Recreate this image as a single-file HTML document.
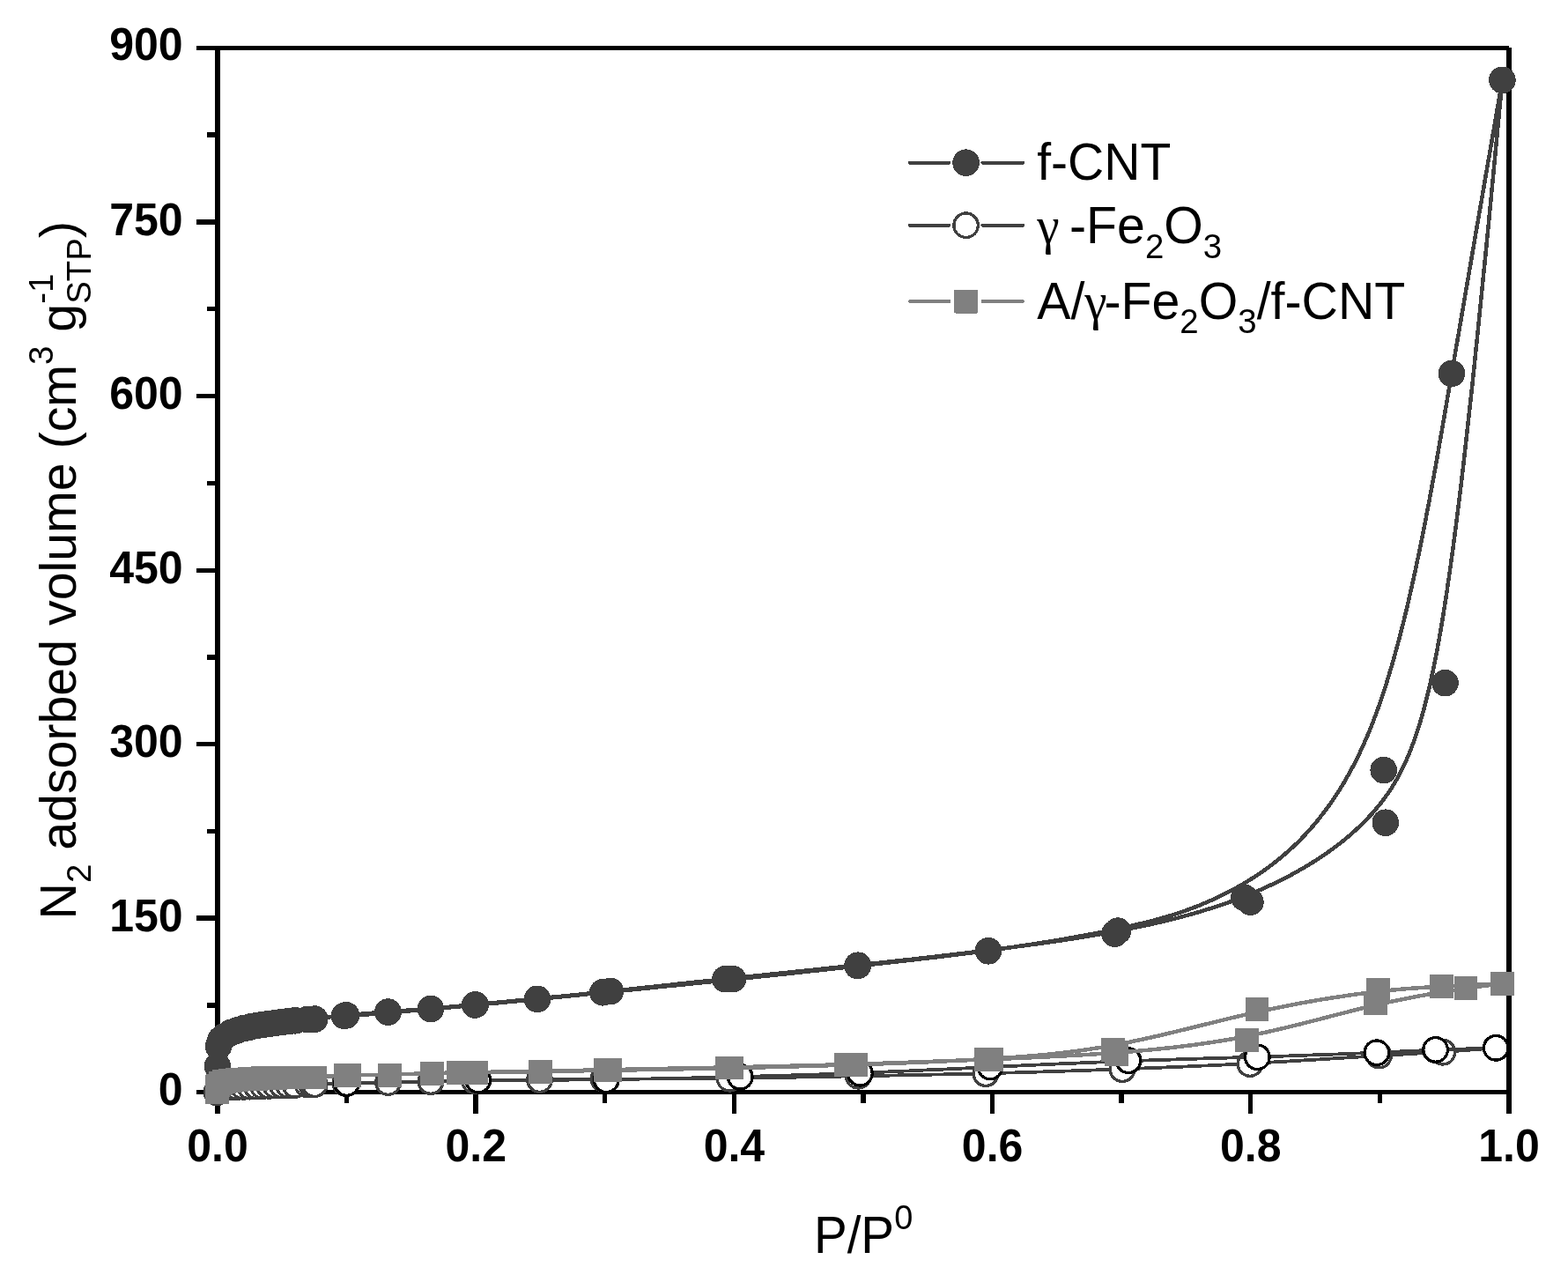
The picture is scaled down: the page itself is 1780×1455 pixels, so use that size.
<!DOCTYPE html>
<html lang="en"><head><meta charset="utf-8"><title>N2 adsorption isotherms</title>
<style>html,body{margin:0;padding:0;background:#fff;}svg{display:block;}text{font-family:"Liberation Sans",sans-serif;fill:#000;}.b{font-weight:bold;font-size:51px;}.g{font-family:"Liberation Serif",serif;}</style></head><body>
<svg width="1780" height="1455" viewBox="0 0 1780 1455">
<rect width="1780" height="1455" fill="#fff"/>
<g fill="#000" shape-rendering="crispEdges">
<rect x="244" y="52" width="6" height="1212"/>
<rect x="1710" y="54" width="6" height="1210"/>
<rect x="223" y="52" width="1490" height="5"/>
<rect x="223" y="1237" width="1493" height="5"/>
<rect x="235" y="1138" width="10" height="6"/>
<rect x="223" y="1039" width="22" height="6"/>
<rect x="235" y="941" width="10" height="5"/>
<rect x="223" y="842" width="22" height="5"/>
<rect x="235" y="743" width="10" height="6"/>
<rect x="223" y="645" width="22" height="5"/>
<rect x="235" y="546" width="10" height="5"/>
<rect x="223" y="447" width="22" height="5"/>
<rect x="235" y="348" width="10" height="5"/>
<rect x="223" y="249" width="22" height="6"/>
<rect x="235" y="150" width="10" height="6"/>
<rect x="391" y="1240" width="5" height="12"/>
<rect x="537" y="1240" width="6" height="24"/>
<rect x="684" y="1240" width="5" height="12"/>
<rect x="831" y="1240" width="5" height="24"/>
<rect x="977" y="1240" width="6" height="12"/>
<rect x="1124" y="1240" width="5" height="24"/>
<rect x="1270" y="1240" width="6" height="12"/>
<rect x="1417" y="1240" width="5" height="24"/>
<rect x="1564" y="1240" width="5" height="12"/>
</g>
<g class="b" text-anchor="end">
<text transform="translate(207.6 1254.0) scale(0.981 1)">0</text>
<text transform="translate(207.6 1056.5) scale(0.981 1)">150</text>
<text transform="translate(207.6 859.0) scale(0.981 1)">300</text>
<text transform="translate(207.6 661.5) scale(0.981 1)">450</text>
<text transform="translate(207.6 464.0) scale(0.981 1)">600</text>
<text transform="translate(207.6 266.5) scale(0.981 1)">750</text>
<text transform="translate(207.6 68.4) scale(0.981 1)">900</text>
</g>
<g class="b" text-anchor="middle">
<text transform="translate(247.0 1317.5) scale(0.981 1)">0.0</text>
<text transform="translate(540.2 1317.5) scale(0.981 1)">0.2</text>
<text transform="translate(833.4 1317.5) scale(0.981 1)">0.4</text>
<text transform="translate(1126.6 1317.5) scale(0.981 1)">0.6</text>
<text transform="translate(1419.8 1317.5) scale(0.981 1)">0.8</text>
<text transform="translate(1713.0 1317.5) scale(0.981 1)">1.0</text>
</g>
<text transform="translate(923.9 1421.8) scale(0.988 1.028)" font-size="57.3">P/P<tspan font-size="38.4" dy="-25.8">0</tspan></text>
<text transform="translate(86 1043.5) rotate(-90)" font-size="57.3">N<tspan font-size="38.4" dy="17">2</tspan><tspan dy="-17"> adsorbed volume (cm</tspan><tspan font-size="38.4" dy="-26">3</tspan><tspan dy="26"> g</tspan><tspan font-size="38.4" dy="-26">-1</tspan><tspan font-size="38.4" dy="43" dx="-34.14">STP</tspan><tspan dy="-17">)</tspan></text>
<g id="fcnt" shape-rendering="crispEdges">
<path d="M247.0 1210.0 L247.3 1202.5 L247.7 1195.6 L248.2 1189.8 L249.3 1183.9 L250.7 1180.4 L252.5 1178.0 L254.9 1176.0 L258.1 1174.0 L261.7 1172.1 L265.3 1170.5 L269.0 1169.3 L272.7 1168.1 L276.3 1167.1 L280.0 1166.2 L283.7 1165.3 L287.3 1164.6 L291.0 1163.9 L294.6 1163.3 L298.3 1162.7 L302.0 1162.1 L305.6 1161.6 L309.3 1161.1 L313.0 1160.6 L316.6 1160.1 L320.3 1159.7 L324.0 1159.3 L327.6 1158.8 L331.4 1158.4 L336.1 1157.9 L341.9 1157.4 L347.4 1157.0 L351.0 1156.7 L353.4 1156.6 L356.0 1156.3 L362.6 1155.6 L366.3 1155.2 L370.8 1154.7 L376.0 1154.1 L381.8 1153.5 L388.2 1152.8 L394.9 1152.2 L401.0 1151.6 L407.3 1151.0 L413.7 1150.5 L420.3 1149.9 L427.0 1149.4 L433.8 1148.9 L440.6 1148.3 L446.7 1147.9 L452.7 1147.4 L458.7 1146.9 L464.8 1146.5 L470.9 1146.0 L477.0 1145.5 L483.1 1145.0 L489.3 1144.5 L495.5 1144.0 L501.8 1143.4 L508.2 1142.9 L514.7 1142.3 L521.4 1141.7 L528.3 1141.0 L535.5 1140.4 L542.9 1139.7 L548.5 1139.2 L554.2 1138.7 L560.1 1138.1 L566.1 1137.6 L572.2 1137.0 L578.4 1136.4 L584.7 1135.8 L591.1 1135.2 L597.6 1134.6 L604.1 1134.0 L610.6 1133.3 L616.7 1132.7 L622.8 1132.1 L629.0 1131.5 L635.4 1130.9 L641.9 1130.3 L648.6 1129.6 L655.5 1128.9 L662.8 1128.1 L670.3 1127.3 L678.2 1126.5 L686.4 1125.6 L695.1 1124.7 L699.8 1124.2 L704.6 1123.7 L709.5 1123.2 L714.6 1122.7 L719.7 1122.1 L725.0 1121.5 L730.3 1121.0 L735.8 1120.4 L741.3 1119.8 L746.9 1119.2 L752.6 1118.6 L758.3 1118.0 L764.1 1117.4 L770.0 1116.7 L776.0 1116.1 L782.0 1115.5 L788.0 1114.8 L794.2 1114.2 L800.3 1113.5 L806.5 1112.9 L812.7 1112.2 L819.0 1111.5 L825.2 1110.9 L831.3 1110.3 L837.3 1109.6 L843.4 1109.0 L849.5 1108.4 L855.6 1107.7 L861.7 1107.1 L867.8 1106.5 L874.0 1105.8 L880.1 1105.2 L886.3 1104.5 L892.5 1103.9 L898.6 1103.3 L904.8 1102.6 L911.0 1102.0 L917.2 1101.3 L923.5 1100.7 L929.7 1100.0 L935.9 1099.4 L942.1 1098.7 L948.3 1098.1 L954.6 1097.4 L960.8 1096.8 L967.0 1096.1 L973.2 1095.5 L979.5 1094.8 L985.7 1094.1 L991.9 1093.4 L998.1 1092.8 L1004.3 1092.1 L1010.5 1091.4 L1016.7 1090.7 L1022.9 1090.0 L1029.1 1089.4 L1035.3 1088.7 L1041.4 1088.0 L1047.6 1087.3 L1053.8 1086.6 L1059.9 1085.9 L1066.1 1085.1 L1072.2 1084.4 L1078.4 1083.7 L1084.5 1083.0 L1090.6 1082.3 L1096.8 1081.5 L1102.9 1080.8 L1109.0 1080.1 L1115.1 1079.3 L1121.2 1078.6 L1127.2 1077.8 L1133.3 1077.1 L1139.4 1076.3 L1145.4 1075.5 L1151.5 1074.7 L1157.6 1073.9 L1163.6 1073.1 L1169.7 1072.3 L1175.7 1071.5 L1181.8 1070.7 L1187.8 1069.8 L1193.9 1068.9 L1199.9 1068.1 L1206.0 1067.2 L1212.1 1066.2 L1218.1 1065.3 L1224.2 1064.3 L1230.3 1063.3 L1236.5 1062.3 L1242.6 1061.3 L1248.7 1060.2 L1254.9 1059.2 L1261.0 1058.1 L1267.2 1056.9 L1273.4 1055.7 L1279.7 1054.6 L1285.9 1053.3 L1292.2 1052.0 L1298.4 1050.7 L1304.7 1049.4 L1311.0 1048.0 L1317.3 1046.5 L1323.6 1045.0 L1330.0 1043.5 L1336.3 1041.9 L1342.7 1040.2 L1349.0 1038.5 L1355.4 1036.7 L1361.8 1034.9 L1368.1 1032.9 L1374.5 1030.9 L1380.9 1028.9 L1387.3 1026.7 L1393.7 1024.5 L1400.1 1022.2 L1406.5 1019.8 L1412.9 1017.3 L1419.3 1014.7 L1425.7 1012.0 L1432.1 1009.3 L1438.5 1006.4 L1444.9 1003.4 L1451.2 1000.4 L1457.5 997.2 L1463.8 994.0 L1470.0 990.6 L1476.2 987.1 L1482.3 983.6 L1488.3 979.9 L1494.3 976.1 L1500.2 972.3 L1506.0 968.3 L1511.8 964.2 L1517.4 960.0 L1523.0 955.7 L1528.4 951.2 L1533.8 946.7 L1539.0 942.0 L1544.1 937.3 L1549.0 932.4 L1553.8 927.4 L1558.5 922.3 L1563.0 917.0 L1567.4 911.6 L1571.7 906.0 L1575.8 900.2 L1579.8 894.2 L1583.7 887.9 L1587.5 881.2 L1591.1 874.2 L1594.7 866.8 L1598.1 859.0 L1601.5 850.8 L1604.8 842.0 L1608.0 832.8 L1611.2 823.0 L1614.2 812.6 L1617.3 801.6 L1620.2 789.9 L1623.2 777.6 L1626.0 764.6 L1628.9 750.8 L1631.7 736.2 L1634.5 720.8 L1637.3 704.6 L1640.0 687.5 L1642.8 669.5 L1645.5 650.6 L1648.3 630.9 L1651.0 610.4 L1653.8 589.1 L1656.5 567.1 L1659.3 544.4 L1662.0 521.1 L1664.7 497.1 L1667.4 472.6 L1670.2 447.6 L1672.9 422.1 L1675.6 396.1 L1678.3 369.6 L1681.0 342.9 L1683.7 315.7 L1686.5 288.3 L1689.2 260.6 L1691.9 232.6 L1694.6 204.5 L1697.3 176.3 L1700.0 147.9 L1702.7 119.4 L1705.4 90.9" fill="none" stroke="#404040" stroke-width="4.5" stroke-linejoin="round"/>
<path d="M1705.4 90.9 L1703.0 104.8 L1700.6 118.7 L1698.2 132.6 L1695.8 146.5 L1693.4 160.5 L1691.0 174.5 L1688.5 188.5 L1686.1 202.6 L1683.7 216.8 L1681.2 231.1 L1678.7 245.4 L1676.2 259.8 L1673.7 274.4 L1671.2 289.0 L1668.7 303.8 L1666.1 318.7 L1663.5 333.7 L1660.9 348.9 L1658.3 364.2 L1655.6 379.7 L1652.9 395.4 L1650.2 411.2 L1647.4 427.2 L1644.6 443.4 L1641.8 459.8 L1638.9 476.4 L1636.0 493.2 L1633.1 510.0 L1630.1 526.9 L1627.0 543.9 L1623.9 560.9 L1620.7 577.9 L1617.4 594.8 L1614.1 611.7 L1610.7 628.4 L1607.2 645.1 L1603.6 661.5 L1599.9 677.8 L1596.2 693.9 L1592.3 709.7 L1588.3 725.2 L1584.2 740.4 L1580.0 755.2 L1575.7 769.7 L1571.3 783.8 L1566.7 797.4 L1562.0 810.5 L1557.2 823.2 L1552.2 835.3 L1547.1 846.9 L1541.9 858.0 L1536.5 868.7 L1531.0 878.8 L1525.5 888.5 L1519.8 897.8 L1514.0 906.6 L1508.2 915.0 L1502.2 923.0 L1496.2 930.6 L1490.2 937.9 L1484.0 944.7 L1477.9 951.3 L1471.7 957.5 L1465.4 963.4 L1459.1 969.0 L1452.8 974.3 L1446.5 979.4 L1440.2 984.1 L1433.8 988.7 L1427.5 993.0 L1421.2 997.1 L1414.9 1001.0 L1408.6 1004.7 L1402.4 1008.2 L1396.1 1011.6 L1389.9 1014.8 L1383.8 1017.8 L1377.6 1020.7 L1371.4 1023.4 L1365.3 1026.0 L1359.2 1028.5 L1353.1 1030.8 L1347.0 1033.1 L1340.9 1035.2 L1334.9 1037.2 L1328.8 1039.1 L1322.8 1040.9 L1316.7 1042.6 L1310.7 1044.3 L1304.6 1045.9 L1298.6 1047.4 L1292.6 1048.8 L1286.5 1050.2 L1280.5 1051.6 L1274.4 1052.9 L1268.4 1054.2 L1262.3 1055.5 L1256.3 1056.7 L1250.2 1057.9 L1244.2 1059.1 L1238.1 1060.3 L1232.0 1061.4 L1225.9 1062.5 L1219.8 1063.6 L1213.7 1064.7 L1207.6 1065.8 L1201.5 1066.8 L1195.4 1067.9 L1189.3 1068.9 L1183.2 1069.8 L1177.1 1070.8 L1170.9 1071.8 L1164.8 1072.7 L1158.7 1073.6 L1152.5 1074.5 L1146.4 1075.4 L1140.3 1076.3 L1134.1 1077.1 L1128.0 1078.0 L1121.8 1078.8 L1115.7 1079.7 L1109.5 1080.5 L1103.4 1081.3 L1097.2 1082.1 L1091.1 1082.8 L1084.9 1083.6 L1078.8 1084.4 L1072.7 1085.1 L1066.5 1085.9 L1060.4 1086.6 L1054.2 1087.3 L1048.1 1088.0 L1042.0 1088.7 L1035.8 1089.5 L1029.7 1090.2 L1023.6 1090.8 L1017.5 1091.5 L1011.4 1092.2 L1005.3 1092.9 L999.2 1093.6 L993.2 1094.2 L987.1 1094.9 L981.0 1095.6 L975.0 1096.2 L968.7 1096.9 L962.4 1097.6 L956.1 1098.3 L949.8 1099.0 L943.6 1099.7 L937.3 1100.4 L931.1 1101.1 L924.9 1101.7 L918.6 1102.4 L912.4 1103.1 L906.2 1103.8 L900.0 1104.4 L893.9 1105.1 L887.7 1105.8 L881.5 1106.4 L875.3 1107.1 L869.2 1107.7 L863.0 1108.4 L856.9 1109.0 L850.8 1109.7 L844.6 1110.3 L838.5 1111.0 L832.4 1111.6 L826.3 1112.3 L820.2 1112.9 L814.1 1113.5 L808.0 1114.1 L801.9 1114.8 L795.8 1115.4 L789.7 1116.0 L783.6 1116.6 L777.4 1117.3 L771.3 1117.9 L765.2 1118.5 L759.0 1119.1 L752.9 1119.7 L746.7 1120.3 L740.5 1121.0 L734.3 1121.6 L728.1 1122.2 L721.9 1122.8 L715.6 1123.5 L709.4 1124.1 L703.1 1124.7 L696.7 1125.3 L690.4 1126.0 L684.3 1126.6 L678.1 1127.2 L672.0 1127.8 L665.8 1128.4 L659.6 1129.1 L653.4 1129.7 L647.2 1130.3 L640.9 1130.9 L634.7 1131.6 L628.4 1132.2 L622.1 1132.8 L615.8 1133.4 L609.5 1134.0 L603.2 1134.7 L596.9 1135.3 L590.6 1135.9 L584.3 1136.5 L577.9 1137.1 L571.6 1137.7 L565.3 1138.3 L559.0 1138.9 L552.7 1139.5 L546.4 1140.1 L540.1 1140.7 L533.8 1141.3 L527.5 1141.8 L521.3 1142.4 L515.0 1143.0 L508.8 1143.5 L502.5 1144.1 L496.3 1144.6 L490.1 1145.2 L483.8 1145.7 L477.6 1146.3 L471.4 1146.8 L465.2 1147.3 L459.0 1147.9 L452.8 1148.4 L446.6 1148.9 L440.4 1149.4 L434.2 1150.0 L428.1 1150.5 L421.9 1151.0 L415.7 1151.5 L409.5 1152.0 L403.4 1152.6 L397.2 1153.1 L391.0 1153.6" fill="none" stroke="#404040" stroke-width="4.5" stroke-linejoin="round"/>
<g fill="#404040"><circle cx="247.0" cy="1210.3" r="15.3"/><circle cx="248.0" cy="1187.5" r="15.3"/><circle cx="250.5" cy="1180.0" r="15.3"/><circle cx="254.3" cy="1176.5" r="15.3"/><circle cx="261.7" cy="1172.1" r="15.3"/><circle cx="269.0" cy="1169.5" r="15.3"/><circle cx="276.3" cy="1167.3" r="15.3"/><circle cx="283.7" cy="1165.6" r="15.3"/><circle cx="291.0" cy="1164.2" r="15.3"/><circle cx="298.3" cy="1163.0" r="15.3"/><circle cx="305.6" cy="1161.9" r="15.3"/><circle cx="313.0" cy="1160.9" r="15.3"/><circle cx="320.3" cy="1160.0" r="15.3"/><circle cx="327.6" cy="1159.1" r="15.3"/><circle cx="335.0" cy="1158.3" r="15.3"/><circle cx="349.0" cy="1157.1" r="15.3"/><circle cx="353.5" cy="1156.8" r="15.3"/><circle cx="357.2" cy="1156.6" r="15.3"/><circle cx="393.0" cy="1152.4" r="15.3"/><circle cx="440.5" cy="1148.6" r="15.3"/><circle cx="488.9" cy="1145.0" r="15.3"/><circle cx="539.6" cy="1140.3" r="15.3"/><circle cx="610.0" cy="1133.8" r="15.3"/><circle cx="684.3" cy="1126.3" r="15.3"/><circle cx="823.4" cy="1111.2" r="15.3"/><circle cx="973.5" cy="1096.0" r="15.3"/><circle cx="1122.0" cy="1079.3" r="15.3"/><circle cx="1265.5" cy="1059.7" r="15.3"/><circle cx="1419.4" cy="1023.7" r="15.3"/><circle cx="1572.8" cy="933.7" r="15.3"/><circle cx="1640.5" cy="775.1" r="15.3"/><circle cx="1705.4" cy="90.9" r="15.3"/><circle cx="1705.4" cy="90.9" r="15.3"/><circle cx="1647.9" cy="423.9" r="15.3"/><circle cx="1570.7" cy="874.1" r="15.3"/><circle cx="1412.4" cy="1018.8" r="15.3"/><circle cx="1269.0" cy="1056.6" r="15.3"/><circle cx="1122.0" cy="1079.3" r="15.3"/><circle cx="974.0" cy="1095.7" r="15.3"/><circle cx="831.9" cy="1111.2" r="15.3"/><circle cx="692.8" cy="1125.0" r="15.3"/><circle cx="539.2" cy="1140.5" r="15.3"/><circle cx="391.0" cy="1152.9" r="15.3"/></g>
</g>
<g id="gfe" shape-rendering="crispEdges">
<path d="M246.0 1239.8 L247.0 1238.7 L248.1 1237.7 L249.3 1236.9 L250.7 1236.3 L252.5 1235.7 L254.9 1235.2 L258.1 1234.6 L261.7 1234.1 L265.3 1233.8 L269.0 1233.6 L272.7 1233.5 L276.3 1233.3 L280.0 1233.2 L283.7 1233.1 L287.3 1233.0 L291.0 1232.8 L294.6 1232.7 L298.3 1232.6 L302.0 1232.5 L305.6 1232.3 L309.3 1232.2 L313.0 1232.1 L316.6 1232.0 L320.3 1231.8 L324.0 1231.7 L327.6 1231.6 L331.4 1231.5 L336.1 1231.3 L341.9 1231.1 L347.4 1230.9 L351.0 1230.8 L353.4 1230.7 L356.0 1230.6 L362.4 1230.4 L366.8 1230.2 L372.4 1230.0 L378.9 1229.8 L386.3 1229.6 L394.3 1229.4 L399.6 1229.3 L405.1 1229.1 L410.7 1229.0 L416.5 1228.9 L422.4 1228.8 L428.4 1228.7 L434.4 1228.6 L440.5 1228.5 L446.6 1228.4 L452.6 1228.2 L458.7 1228.1 L464.8 1228.0 L470.9 1227.9 L476.9 1227.7 L483.0 1227.6 L489.2 1227.5 L495.3 1227.4 L501.5 1227.2 L507.8 1227.1 L514.3 1227.0 L520.9 1226.9 L527.9 1226.8 L535.1 1226.6 L542.6 1226.5 L547.8 1226.4 L553.2 1226.3 L558.8 1226.2 L564.4 1226.2 L570.2 1226.1 L576.0 1226.0 L582.0 1225.9 L588.0 1225.8 L594.0 1225.8 L600.1 1225.7 L606.2 1225.6 L612.3 1225.5 L618.4 1225.4 L624.6 1225.3 L630.8 1225.3 L637.1 1225.2 L643.6 1225.1 L650.2 1225.0 L657.2 1224.9 L664.3 1224.9 L671.9 1224.8 L679.8 1224.7 L688.0 1224.7 L696.8 1224.6 L701.5 1224.6 L706.4 1224.6 L711.4 1224.5 L716.5 1224.5 L721.8 1224.5 L727.1 1224.5 L732.5 1224.4 L738.1 1224.4 L743.7 1224.4 L749.4 1224.4 L755.2 1224.3 L761.0 1224.3 L766.9 1224.3 L772.9 1224.2 L779.0 1224.2 L785.1 1224.1 L791.2 1224.1 L797.4 1224.1 L803.6 1224.0 L809.8 1223.9 L816.1 1223.9 L822.3 1223.8 L828.6 1223.8 L834.6 1223.7 L840.7 1223.6 L846.7 1223.5 L852.8 1223.4 L858.8 1223.4 L864.9 1223.3 L870.9 1223.2 L877.0 1223.1 L883.0 1223.0 L889.1 1222.9 L895.2 1222.8 L901.2 1222.7 L907.3 1222.5 L913.4 1222.4 L919.4 1222.3 L925.5 1222.2 L931.6 1222.1 L937.7 1222.0 L943.7 1221.9 L949.8 1221.7 L955.9 1221.6 L961.9 1221.5 L968.0 1221.4 L974.0 1221.3 L980.1 1221.2 L986.2 1221.0 L992.2 1220.9 L998.3 1220.8 L1004.3 1220.7 L1010.4 1220.6 L1016.5 1220.5 L1022.5 1220.3 L1028.6 1220.2 L1034.7 1220.1 L1040.7 1220.0 L1046.8 1219.9 L1052.9 1219.7 L1059.0 1219.6 L1065.1 1219.5 L1071.3 1219.4 L1077.4 1219.2 L1083.5 1219.1 L1089.7 1218.9 L1095.9 1218.8 L1102.1 1218.7 L1108.3 1218.5 L1114.5 1218.4 L1120.7 1218.2 L1127.0 1218.0 L1133.2 1217.9 L1139.5 1217.7 L1145.8 1217.5 L1152.1 1217.4 L1158.4 1217.2 L1164.8 1217.0 L1171.1 1216.8 L1177.5 1216.6 L1183.8 1216.4 L1190.2 1216.2 L1196.5 1216.0 L1202.9 1215.8 L1209.2 1215.6 L1215.6 1215.4 L1221.9 1215.2 L1228.2 1215.0 L1234.6 1214.8 L1240.9 1214.5 L1247.2 1214.3 L1253.5 1214.1 L1259.8 1213.9 L1266.1 1213.6 L1272.3 1213.4 L1278.6 1213.2 L1284.8 1213.0 L1291.0 1212.7 L1297.2 1212.5 L1303.4 1212.2 L1309.6 1212.0 L1315.7 1211.7 L1321.8 1211.5 L1328.0 1211.2 L1334.1 1211.0 L1340.2 1210.7 L1346.3 1210.5 L1352.4 1210.2 L1358.5 1209.9 L1364.6 1209.6 L1370.7 1209.4 L1376.8 1209.1 L1382.8 1208.8 L1388.9 1208.5 L1395.0 1208.2 L1401.0 1207.9 L1407.1 1207.6 L1413.2 1207.3 L1419.2 1206.9 L1425.3 1206.6 L1431.4 1206.3 L1437.5 1205.9 L1443.5 1205.6 L1449.5 1205.2 L1455.5 1204.9 L1461.5 1204.6 L1467.4 1204.2 L1473.3 1203.8 L1479.2 1203.5 L1485.0 1203.1 L1490.7 1202.8 L1496.4 1202.5 L1502.0 1202.1 L1507.6 1201.8 L1513.0 1201.4 L1518.4 1201.1 L1523.7 1200.8 L1528.8 1200.4 L1533.9 1200.1 L1538.9 1199.8 L1543.8 1199.5 L1548.5 1199.2 L1553.1 1199.0 L1562.0 1198.4 L1570.4 1197.9 L1578.3 1197.4 L1585.9 1197.0 L1593.0 1196.6 L1599.9 1196.2 L1606.4 1195.8 L1612.7 1195.4 L1618.7 1195.1 L1624.5 1194.7 L1630.2 1194.4 L1635.8 1194.0 L1642.4 1193.6 L1648.9 1193.1 L1655.2 1192.7 L1661.5 1192.2 L1667.8 1191.7 L1673.9 1191.2 L1680.0 1190.8 L1686.1 1190.3 L1692.2 1189.8 L1698.2 1189.3" fill="none" stroke="#404040" stroke-width="3.8" stroke-linejoin="round"/>
<g fill="#fff" stroke="#404040" stroke-width="3.3"><circle cx="246.0" cy="1239.8" r="13.8"/><circle cx="248.0" cy="1237.5" r="13.8"/><circle cx="250.5" cy="1236.2" r="13.8"/><circle cx="254.3" cy="1235.2" r="13.8"/><circle cx="261.7" cy="1233.9" r="13.8"/><circle cx="269.0" cy="1233.6" r="13.8"/><circle cx="276.3" cy="1233.3" r="13.8"/><circle cx="283.7" cy="1233.1" r="13.8"/><circle cx="291.0" cy="1232.8" r="13.8"/><circle cx="298.3" cy="1232.6" r="13.8"/><circle cx="305.6" cy="1232.3" r="13.8"/><circle cx="313.0" cy="1232.1" r="13.8"/><circle cx="320.3" cy="1231.8" r="13.8"/><circle cx="327.6" cy="1231.6" r="13.8"/><circle cx="335.0" cy="1231.4" r="13.8"/><circle cx="349.0" cy="1230.9" r="13.8"/><circle cx="353.5" cy="1230.7" r="13.8"/><circle cx="357.2" cy="1230.6" r="13.8"/><circle cx="392.0" cy="1229.3" r="13.8"/><circle cx="440.5" cy="1228.5" r="13.8"/><circle cx="489.0" cy="1227.5" r="13.8"/><circle cx="538.5" cy="1226.5" r="13.8"/><circle cx="612.6" cy="1225.5" r="13.8"/><circle cx="685.0" cy="1224.5" r="13.8"/><circle cx="828.1" cy="1224.2" r="13.8"/><circle cx="974.3" cy="1221.2" r="13.8"/><circle cx="1119.0" cy="1218.6" r="13.8"/><circle cx="1274.0" cy="1213.6" r="13.8"/><circle cx="1419.0" cy="1207.5" r="13.8"/><circle cx="1565.5" cy="1198.0" r="13.8"/><circle cx="1637.8" cy="1194.2" r="13.8"/><circle cx="1698.2" cy="1189.3" r="13.8"/></g>
<path d="M1698.2 1189.3 L1692.0 1189.5 L1685.7 1189.7 L1679.5 1189.9 L1673.3 1190.1 L1667.0 1190.3 L1660.8 1190.5 L1654.6 1190.7 L1648.4 1190.9 L1642.2 1191.1 L1636.1 1191.4 L1629.9 1191.6 L1623.8 1191.9 L1617.6 1192.1 L1611.3 1192.4 L1604.9 1192.7 L1598.3 1193.0 L1591.4 1193.3 L1584.2 1193.6 L1576.7 1194.0 L1568.7 1194.3 L1560.3 1194.7 L1551.4 1195.1 L1546.7 1195.3 L1541.9 1195.5 L1537.0 1195.7 L1531.9 1195.9 L1526.8 1196.1 L1521.5 1196.3 L1516.1 1196.5 L1510.5 1196.7 L1504.9 1196.9 L1499.2 1197.1 L1493.4 1197.3 L1487.6 1197.5 L1481.6 1197.7 L1475.6 1197.9 L1469.5 1198.2 L1463.4 1198.4 L1457.2 1198.6 L1450.9 1198.8 L1444.6 1199.0 L1438.3 1199.2 L1431.9 1199.4 L1425.5 1199.6 L1419.6 1199.8 L1413.7 1200.0 L1407.8 1200.2 L1401.9 1200.3 L1395.9 1200.5 L1389.9 1200.7 L1384.0 1200.9 L1377.9 1201.1 L1371.9 1201.2 L1365.9 1201.4 L1359.8 1201.6 L1353.7 1201.8 L1347.6 1202.0 L1341.5 1202.2 L1335.3 1202.4 L1329.2 1202.6 L1323.0 1202.8 L1316.8 1203.0 L1310.6 1203.2 L1304.3 1203.4 L1298.1 1203.6 L1291.8 1203.8 L1285.5 1204.0 L1279.2 1204.3 L1272.9 1204.5 L1266.5 1204.7 L1260.2 1205.0 L1253.8 1205.2 L1247.4 1205.5 L1241.0 1205.8 L1234.6 1206.0 L1228.2 1206.3 L1221.8 1206.6 L1215.3 1206.9 L1208.9 1207.1 L1202.5 1207.4 L1196.0 1207.7 L1189.6 1208.0 L1183.2 1208.3 L1176.7 1208.6 L1170.3 1208.9 L1163.9 1209.2 L1157.5 1209.5 L1151.1 1209.8 L1144.7 1210.1 L1138.3 1210.4 L1131.9 1210.7 L1125.6 1211.0 L1119.2 1211.3 L1112.9 1211.6 L1106.6 1211.9 L1100.3 1212.2 L1094.0 1212.5 L1087.8 1212.8 L1081.6 1213.1 L1075.3 1213.4 L1069.1 1213.7 L1062.9 1214.0 L1056.8 1214.2 L1050.6 1214.5 L1044.5 1214.8 L1038.4 1215.1 L1032.3 1215.4 L1026.2 1215.6 L1020.2 1215.9 L1014.1 1216.2 L1008.1 1216.4 L1002.1 1216.7 L996.1 1216.9 L990.2 1217.2 L984.2 1217.4 L978.3 1217.7 L971.9 1217.9 L965.4 1218.2 L959.0 1218.4 L952.7 1218.6 L946.3 1218.9 L939.9 1219.1 L933.6 1219.3 L927.2 1219.5 L920.9 1219.7 L914.6 1219.9 L908.2 1220.1 L901.9 1220.3 L895.5 1220.5 L889.1 1220.7 L882.8 1220.9 L876.4 1221.1 L870.0 1221.2 L863.5 1221.4 L857.1 1221.6 L850.6 1221.8 L844.1 1221.9 L837.6 1222.1 L831.6 1222.3 L825.5 1222.4 L819.5 1222.6 L813.4 1222.7 L807.3 1222.9 L801.1 1223.0 L795.0 1223.2 L788.8 1223.3 L782.7 1223.5 L776.5 1223.6 L770.3 1223.7 L764.1 1223.9 L757.8 1224.0 L751.6 1224.1 L745.4 1224.3 L739.2 1224.4 L732.9 1224.5 L726.7 1224.6 L720.5 1224.7 L714.2 1224.8 L708.0 1224.9 L701.8 1225.0 L695.6 1225.1 L689.4 1225.2 L683.2 1225.2 L677.0 1225.3 L670.8 1225.4 L664.7 1225.4 L658.5 1225.5 L652.4 1225.6 L646.3 1225.6 L640.1 1225.7 L634.0 1225.7 L627.9 1225.8 L621.8 1225.8 L615.7 1225.9 L609.5 1225.9 L603.4 1225.9 L597.3 1226.0 L591.2 1226.0 L585.1 1226.1 L579.0 1226.1 L572.9 1226.2 L566.8 1226.3 L560.6 1226.3 L554.5 1226.4 L548.4 1226.5 L542.2 1226.5 L536.1 1226.6 L530.0 1226.7 L523.8 1226.8 L517.6 1226.9 L511.5 1227.0 L505.3 1227.1 L499.1 1227.2 L492.9 1227.3 L486.8 1227.4 L480.6 1227.6 L474.4 1227.7 L468.2 1227.8 L462.0 1227.9 L455.8 1228.1 L449.6 1228.2 L443.3 1228.4 L437.1 1228.5 L430.9 1228.6 L424.7 1228.8 L418.5 1228.9 L412.3 1229.1 L406.0 1229.2 L399.8 1229.4 L393.6 1229.5" fill="none" stroke="#404040" stroke-width="3.8" stroke-linejoin="round"/>
<g fill="#fff" stroke="#000" stroke-width="3.3"><circle cx="1698.2" cy="1189.3" r="13.8"/><circle cx="1629.6" cy="1191.4" r="13.8"/><circle cx="1562.9" cy="1194.8" r="13.8"/><circle cx="1427.3" cy="1199.8" r="13.8"/><circle cx="1281.0" cy="1203.7" r="13.8"/><circle cx="1124.0" cy="1211.0" r="13.8"/><circle cx="976.4" cy="1218.2" r="13.8"/><circle cx="840.2" cy="1222.2" r="13.8"/><circle cx="688.3" cy="1225.7" r="13.8"/><circle cx="542.9" cy="1226.0" r="13.8"/><circle cx="393.6" cy="1229.5" r="13.8"/></g>
</g>
<g id="comp" shape-rendering="crispEdges">
<path d="M246.5 1239.0 L246.5 1236.3 L246.7 1234.0 L247.1 1232.6 L247.8 1231.5 L248.9 1230.4 L250.4 1229.2 L252.3 1228.2 L254.8 1227.4 L258.1 1226.7 L261.7 1226.0 L265.3 1225.6 L269.0 1225.2 L272.7 1224.9 L276.3 1224.6 L280.0 1224.3 L283.7 1224.1 L287.3 1223.9 L291.0 1223.7 L294.6 1223.5 L298.3 1223.4 L302.0 1223.3 L305.6 1223.1 L309.3 1223.0 L313.0 1222.9 L316.6 1222.7 L320.3 1222.7 L324.0 1222.6 L327.6 1222.5 L331.4 1222.5 L336.1 1222.5 L341.9 1222.5 L347.4 1222.6 L351.0 1222.6 L353.4 1222.6 L356.0 1222.5 L362.4 1222.2 L366.9 1222.0 L372.1 1221.7 L377.5 1221.3 L382.7 1221.0 L387.2 1220.8 L394.6 1220.4 L403.3 1220.3 L407.3 1220.3 L412.0 1220.2 L417.3 1220.1 L423.1 1220.0 L429.3 1219.9 L435.8 1219.8 L442.5 1219.6 L448.4 1219.4 L454.3 1219.3 L460.2 1219.1 L466.2 1218.9 L472.2 1218.7 L478.3 1218.5 L484.3 1218.3 L490.5 1218.1 L496.6 1218.0 L502.8 1217.8 L509.2 1217.7 L515.7 1217.5 L522.4 1217.4 L529.3 1217.2 L536.5 1217.1 L544.0 1217.0 L549.2 1216.9 L554.6 1216.8 L560.0 1216.7 L565.6 1216.6 L571.3 1216.5 L577.2 1216.4 L583.1 1216.3 L589.0 1216.2 L595.1 1216.1 L601.1 1216.0 L607.2 1215.9 L613.4 1215.8 L619.5 1215.7 L625.7 1215.5 L632.0 1215.4 L638.4 1215.3 L645.0 1215.1 L651.8 1215.0 L658.7 1214.8 L666.0 1214.7 L673.5 1214.5 L681.4 1214.3 L689.6 1214.1 L698.3 1214.0 L702.9 1213.9 L707.7 1213.8 L712.7 1213.7 L717.7 1213.6 L722.8 1213.5 L728.0 1213.4 L733.3 1213.3 L738.7 1213.2 L744.2 1213.0 L749.7 1212.9 L755.3 1212.8 L761.0 1212.7 L766.8 1212.6 L772.6 1212.5 L778.5 1212.4 L784.4 1212.2 L790.4 1212.1 L796.4 1212.0 L802.5 1211.9 L808.6 1211.8 L814.7 1211.6 L820.8 1211.5 L827.0 1211.4 L832.9 1211.2 L838.9 1211.1 L844.8 1211.0 L850.8 1210.9 L856.7 1210.7 L862.7 1210.6 L868.7 1210.5 L874.7 1210.3 L880.8 1210.2 L886.8 1210.0 L892.9 1209.9 L898.9 1209.7 L905.0 1209.6 L911.1 1209.4 L917.2 1209.3 L923.4 1209.1 L929.5 1208.9 L935.7 1208.8 L941.8 1208.6 L948.0 1208.4 L954.2 1208.3 L960.4 1208.1 L966.7 1207.9 L972.9 1207.7 L979.2 1207.5 L985.4 1207.3 L991.7 1207.1 L998.0 1206.9 L1004.3 1206.7 L1010.6 1206.5 L1016.9 1206.3 L1023.2 1206.0 L1029.6 1205.8 L1035.9 1205.6 L1042.2 1205.4 L1048.5 1205.1 L1054.8 1204.9 L1061.1 1204.7 L1067.4 1204.4 L1073.7 1204.2 L1080.0 1204.0 L1086.3 1203.7 L1092.5 1203.5 L1098.8 1203.2 L1105.0 1203.0 L1111.2 1202.7 L1117.4 1202.5 L1123.6 1202.2 L1130.0 1202.0 L1136.4 1201.7 L1142.7 1201.5 L1149.1 1201.2 L1155.4 1200.9 L1161.7 1200.7 L1168.0 1200.4 L1174.3 1200.1 L1180.6 1199.8 L1186.9 1199.5 L1193.1 1199.2 L1199.4 1198.9 L1205.7 1198.6 L1211.9 1198.2 L1218.1 1197.9 L1224.4 1197.5 L1230.6 1197.2 L1236.9 1196.8 L1243.1 1196.4 L1249.4 1196.0 L1255.7 1195.5 L1262.0 1195.1 L1268.2 1194.6 L1274.3 1194.2 L1280.3 1193.7 L1286.4 1193.2 L1292.5 1192.7 L1298.6 1192.1 L1304.7 1191.6 L1310.8 1191.0 L1316.9 1190.4 L1323.0 1189.7 L1329.1 1189.1 L1335.2 1188.4 L1341.3 1187.6 L1347.5 1186.9 L1353.6 1186.1 L1359.8 1185.3 L1365.9 1184.4 L1372.0 1183.5 L1378.2 1182.6 L1384.3 1181.6 L1390.5 1180.6 L1396.6 1179.6 L1402.8 1178.5 L1408.9 1177.3 L1415.0 1176.1 L1421.2 1174.9 L1427.3 1173.6 L1433.4 1172.3 L1439.5 1171.0 L1445.6 1169.6 L1451.7 1168.2 L1457.7 1166.8 L1463.7 1165.3 L1469.7 1163.8 L1475.7 1162.4 L1481.6 1160.9 L1487.5 1159.4 L1493.3 1157.9 L1499.2 1156.4 L1504.9 1154.9 L1510.6 1153.4 L1516.3 1152.0 L1521.9 1150.5 L1527.5 1149.1 L1532.9 1147.7 L1538.4 1146.3 L1543.7 1145.0 L1549.0 1143.7 L1554.2 1142.5 L1561.5 1140.8 L1568.6 1139.2 L1575.5 1137.6 L1582.2 1136.2 L1588.8 1134.8 L1595.3 1133.5 L1601.5 1132.3 L1607.6 1131.1 L1613.5 1130.0 L1619.2 1129.0 L1624.7 1128.0 L1630.1 1127.1 L1635.2 1126.3 L1640.2 1125.5 L1644.9 1124.7 L1649.5 1124.0 L1653.8 1123.3 L1665.0 1121.7 L1674.8 1120.3 L1683.4 1119.1 L1691.2 1118.1 L1698.5 1117.2 L1705.4 1116.3" fill="none" stroke="#808080" stroke-width="4.5" stroke-linejoin="round"/>
<path d="M1705.4 1116.3 L1699.1 1116.6 L1692.9 1116.9 L1686.6 1117.2 L1680.3 1117.5 L1674.0 1117.8 L1667.7 1118.1 L1661.4 1118.4 L1655.1 1118.8 L1648.7 1119.1 L1642.4 1119.4 L1636.0 1119.7 L1630.1 1120.0 L1624.2 1120.4 L1618.1 1120.7 L1611.9 1121.1 L1605.6 1121.5 L1599.1 1122.0 L1592.3 1122.6 L1585.2 1123.2 L1577.9 1123.9 L1570.2 1124.7 L1562.1 1125.6 L1553.6 1126.7 L1548.9 1127.2 L1544.2 1127.9 L1539.4 1128.5 L1534.4 1129.2 L1529.3 1129.9 L1524.1 1130.7 L1518.8 1131.5 L1513.4 1132.3 L1507.9 1133.2 L1502.3 1134.1 L1496.7 1135.0 L1490.9 1136.0 L1485.1 1137.0 L1479.1 1138.1 L1473.1 1139.2 L1467.0 1140.4 L1460.9 1141.6 L1454.6 1142.8 L1448.3 1144.1 L1442.0 1145.4 L1435.6 1146.7 L1429.1 1148.1 L1422.6 1149.6 L1416.3 1151.0 L1410.0 1152.5 L1403.6 1154.0 L1397.2 1155.5 L1390.8 1157.1 L1384.3 1158.7 L1377.8 1160.3 L1371.3 1161.9 L1364.7 1163.5 L1358.2 1165.1 L1351.6 1166.7 L1345.1 1168.3 L1338.5 1169.9 L1331.9 1171.5 L1325.3 1173.1 L1318.7 1174.7 L1312.2 1176.2 L1305.6 1177.7 L1299.1 1179.1 L1292.5 1180.6 L1286.0 1181.9 L1279.5 1183.3 L1273.1 1184.6 L1266.6 1185.8 L1260.3 1187.0 L1253.9 1188.1 L1247.5 1189.1 L1241.2 1190.1 L1234.9 1191.1 L1228.7 1192.0 L1222.4 1192.8 L1216.2 1193.6 L1210.0 1194.4 L1203.8 1195.1 L1197.6 1195.8 L1191.4 1196.5 L1185.2 1197.1 L1179.0 1197.7 L1172.8 1198.2 L1166.6 1198.7 L1160.4 1199.2 L1154.2 1199.7 L1148.0 1200.2 L1141.8 1200.6 L1135.5 1201.0 L1129.3 1201.4 L1123.0 1201.8 L1116.7 1202.1 L1110.4 1202.5 L1104.0 1202.8 L1097.7 1203.2 L1091.3 1203.5 L1084.9 1203.8 L1078.5 1204.1 L1072.1 1204.4 L1065.7 1204.7 L1059.3 1205.0 L1052.9 1205.3 L1046.5 1205.6 L1040.1 1205.8 L1033.8 1206.1 L1027.4 1206.3 L1021.1 1206.6 L1014.7 1206.8 L1008.5 1207.0 L1002.2 1207.3 L995.9 1207.5 L989.7 1207.7 L983.6 1207.9 L977.4 1208.1 L971.4 1208.3 L965.3 1208.5 L958.5 1208.7 L951.7 1208.9 L944.9 1209.1 L938.3 1209.3 L931.6 1209.5 L925.0 1209.7 L918.5 1209.9 L912.0 1210.1 L905.5 1210.3 L899.0 1210.4 L892.6 1210.6 L886.2 1210.8 L879.8 1210.9 L873.5 1211.1 L867.1 1211.3 L860.7 1211.4 L854.4 1211.6 L848.0 1211.7 L841.7 1211.9 L835.3 1212.0 L828.9 1212.2 L822.8 1212.3 L816.7 1212.4 L810.5 1212.5 L804.4 1212.7 L798.2 1212.8 L792.0 1212.9 L785.7 1213.1 L779.4 1213.2 L773.1 1213.3 L766.8 1213.4 L760.4 1213.5 L754.0 1213.7 L747.5 1213.8 L740.9 1213.9 L734.4 1214.0 L727.7 1214.1 L721.0 1214.3 L714.3 1214.4 L707.5 1214.5 L700.6 1214.6 L693.7 1214.8 L686.7 1214.9 L680.2 1215.0 L673.7 1215.1 L667.1 1215.2 L660.4 1215.3 L653.7 1215.5 L647.0 1215.6 L640.2 1215.7 L633.4 1215.8 L626.5 1215.9 L619.6 1216.1 L612.7 1216.2 L605.7 1216.3 L598.7 1216.4 L591.7 1216.6 L584.6 1216.7 L577.5 1216.8 L570.4 1216.9 L563.3 1217.1 L556.2 1217.2 L549.0 1217.3 L541.9 1217.4 L534.7 1217.6 L527.6 1217.7 L520.4 1217.8" fill="none" stroke="#808080" stroke-width="4.5" stroke-linejoin="round"/>
<g fill="#808080"><rect x="233.1" y="1226.0" width="26.8" height="26.8"/><rect x="233.1" y="1220.4" width="26.8" height="26.8"/><rect x="234.1" y="1218.6" width="26.8" height="26.8"/><rect x="236.7" y="1216.1" width="26.8" height="26.8"/><rect x="240.9" y="1214.3" width="26.8" height="26.8"/><rect x="248.3" y="1213.0" width="26.8" height="26.8"/><rect x="255.6" y="1212.1" width="26.8" height="26.8"/><rect x="262.9" y="1211.6" width="26.8" height="26.8"/><rect x="270.3" y="1211.1" width="26.8" height="26.8"/><rect x="277.6" y="1210.7" width="26.8" height="26.8"/><rect x="284.9" y="1210.4" width="26.8" height="26.8"/><rect x="292.2" y="1210.1" width="26.8" height="26.8"/><rect x="299.6" y="1209.8" width="26.8" height="26.8"/><rect x="306.9" y="1209.6" width="26.8" height="26.8"/><rect x="314.2" y="1209.5" width="26.8" height="26.8"/><rect x="321.6" y="1209.5" width="26.8" height="26.8"/><rect x="335.6" y="1209.6" width="26.8" height="26.8"/><rect x="340.1" y="1209.6" width="26.8" height="26.8"/><rect x="343.8" y="1209.6" width="26.8" height="26.8"/><rect x="379.0" y="1207.4" width="26.8" height="26.8"/><rect x="383.0" y="1207.4" width="26.8" height="26.8"/><rect x="428.7" y="1206.8" width="26.8" height="26.8"/><rect x="476.7" y="1205.0" width="26.8" height="26.8"/><rect x="526.8" y="1204.0" width="26.8" height="26.8"/><rect x="599.7" y="1202.9" width="26.8" height="26.8"/><rect x="674.3" y="1201.1" width="26.8" height="26.8"/><rect x="812.3" y="1198.5" width="26.8" height="26.8"/><rect x="958.1" y="1195.1" width="26.8" height="26.8"/><rect x="1112.3" y="1189.3" width="26.8" height="26.8"/><rect x="1253.7" y="1182.8" width="26.8" height="26.8"/><rect x="1402.0" y="1167.2" width="26.8" height="26.8"/><rect x="1548.1" y="1124.8" width="26.8" height="26.8"/><rect x="1650.6" y="1108.0" width="26.8" height="26.8"/><rect x="1692.0" y="1102.9" width="26.8" height="26.8"/><rect x="1692.0" y="1102.9" width="26.8" height="26.8"/><rect x="1623.1" y="1106.2" width="26.8" height="26.8"/><rect x="1551.1" y="1110.3" width="26.8" height="26.8"/><rect x="1413.5" y="1132.2" width="26.8" height="26.8"/><rect x="1250.1" y="1178.1" width="26.8" height="26.8"/><rect x="1105.6" y="1189.3" width="26.8" height="26.8"/><rect x="947.3" y="1195.1" width="26.8" height="26.8"/><rect x="816.7" y="1198.5" width="26.8" height="26.8"/><rect x="679.0" y="1201.0" width="26.8" height="26.8"/><rect x="507.0" y="1204.0" width="26.8" height="26.8"/></g>
</g>
<g id="legend" shape-rendering="crispEdges">
<path d="M1033.2 184.7 H1077.4 M1115.6 184.7 H1160.8" stroke="#404040" stroke-width="4.3" stroke-linecap="round" fill="none"/>
<path d="M1033.2 255.7 H1077.4 M1115.6 255.7 H1160.8" stroke="#404040" stroke-width="4.3" stroke-linecap="round" fill="none"/>
<path d="M1033.2 342.1 H1077.4 M1115.6 342.1 H1160.8" stroke="#808080" stroke-width="4.3" stroke-linecap="round" fill="none"/>
<circle cx="1096.6" cy="184.7" r="15.3" fill="#404040"/>
<circle cx="1096.6" cy="255.7" r="13.75" fill="#fff" stroke="#404040" stroke-width="3.3"/>
<rect x="1083.2" y="328.7" width="26.8" height="26.8" rx="1.5" fill="#808080"/>
<text transform="translate(1177.2 204.1) scale(0.996 1.03)" font-size="57.3">f-CNT</text>
<text transform="translate(1177.2 276.4) scale(1 1.03)" font-size="57.3"><tspan class="g">γ</tspan><tspan x="36.8">-Fe</tspan><tspan font-size="38.4" dy="15.7">2</tspan><tspan dy="-15.7">O</tspan><tspan font-size="38.4" dy="15.7">3</tspan></text>
<text transform="translate(1177.2 361.7) scale(1 1.03)" font-size="57.3">A/<tspan class="g">γ</tspan><tspan x="76.2">-Fe</tspan><tspan font-size="38.4" dy="15.7">2</tspan><tspan dy="-15.7">O</tspan><tspan font-size="38.4" dy="15.7">3</tspan><tspan dy="-15.7">/f-CNT</tspan></text>
</g>
</svg></body></html>
